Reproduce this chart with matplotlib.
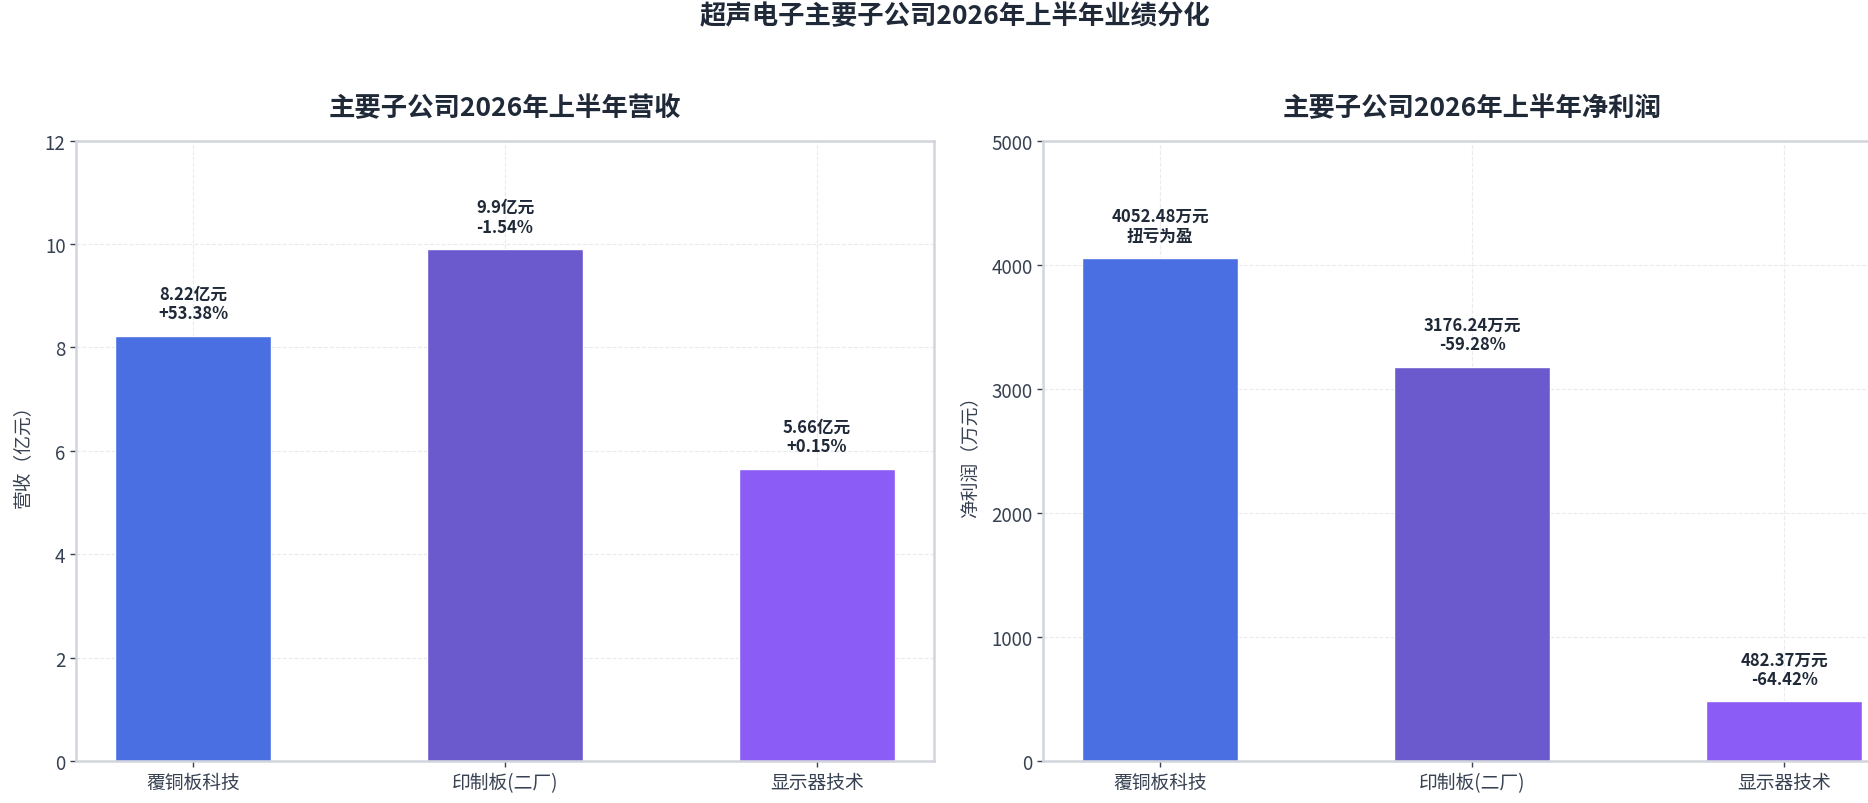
import matplotlib
matplotlib.use('Agg')
from matplotlib import pyplot as plt

plt.rcParams['font.family'] = ['Noto Sans CJK SC', 'DejaVu Sans']
plt.rcParams['axes.unicode_minus'] = False

# 数据
companies = ['覆铜板科技', '印制板(二厂)', '显示器技术']
revenue = [8.22, 9.9, 5.66]
revenue_chg = ['+53.38%', '-1.54%', '+0.15%']
profit = [4052.48, 3176.24, 482.37]
profit_chg = ['扭亏为盈', '-59.28%', '-64.42%']
colors = ['#4A6FE3', '#6A5ACD', '#8B5CF6']

title_color = '#1F2937'
tick_color = '#374151'
spine_color = '#D1D5DB'

fig = plt.figure(figsize=(18.68, 8.04), dpi=100)
ax1 = fig.add_axes([0.0407, 0.0519, 0.4593, 0.772])
ax2 = fig.add_axes([0.5584, 0.0519, 0.4593, 0.772])


def style_axis(ax, ymax, yticks, ylabel, title):
    ax.set_ylim(0, ymax)
    ax.set_yticks(yticks)
    ax.set_title(title, fontsize=19, fontweight='bold', color=title_color, pad=18)
    ax.set_ylabel(ylabel, fontsize=13.5, color=tick_color, labelpad=8)
    ax.grid(True, linestyle='--', color='#E5E7EB', linewidth=0.8, alpha=0.8)
    ax.set_axisbelow(True)
    for s in ax.spines.values():
        s.set_color(spine_color)
        s.set_linewidth(1.8)
    ax.tick_params(axis='both', labelsize=13.5, colors=tick_color, length=4, width=1)


x = range(len(companies))

# 左图：营收
ax1.bar(x, revenue, width=0.5, color=colors, edgecolor='white', linewidth=1)
style_axis(ax1, 12, range(0, 13, 2), '营收（亿元）', '主要子公司2026年上半年营收')
ax1.set_xticks(list(x))
ax1.set_xticklabels(companies)
for i, v in enumerate(revenue):
    ax1.text(i, v + 12 * 0.022, f'{v}亿元\n{revenue_chg[i]}', ha='center', va='bottom',
             fontsize=12, fontweight='bold', color=title_color, linespacing=1.1)

# 右图：净利润
ax2.bar(x, profit, width=0.5, color=colors, edgecolor='white', linewidth=1)
style_axis(ax2, 5000, range(0, 5001, 1000), '净利润（万元）', '主要子公司2026年上半年净利润')
ax2.set_xticks(list(x))
ax2.set_xticklabels(companies)
for i, v in enumerate(profit):
    ax2.text(i, v + 5000 * 0.022, f'{v}万元\n{profit_chg[i]}', ha='center', va='bottom',
             fontsize=12, fontweight='bold', color=title_color, linespacing=1.1)

fig.suptitle('超声电子主要子公司2026年上半年业绩分化', x=0.511, y=0.979, va='center',
             fontsize=19, fontweight='bold', color=title_color)

fig.savefig('out.png', dpi=100, facecolor='white')
